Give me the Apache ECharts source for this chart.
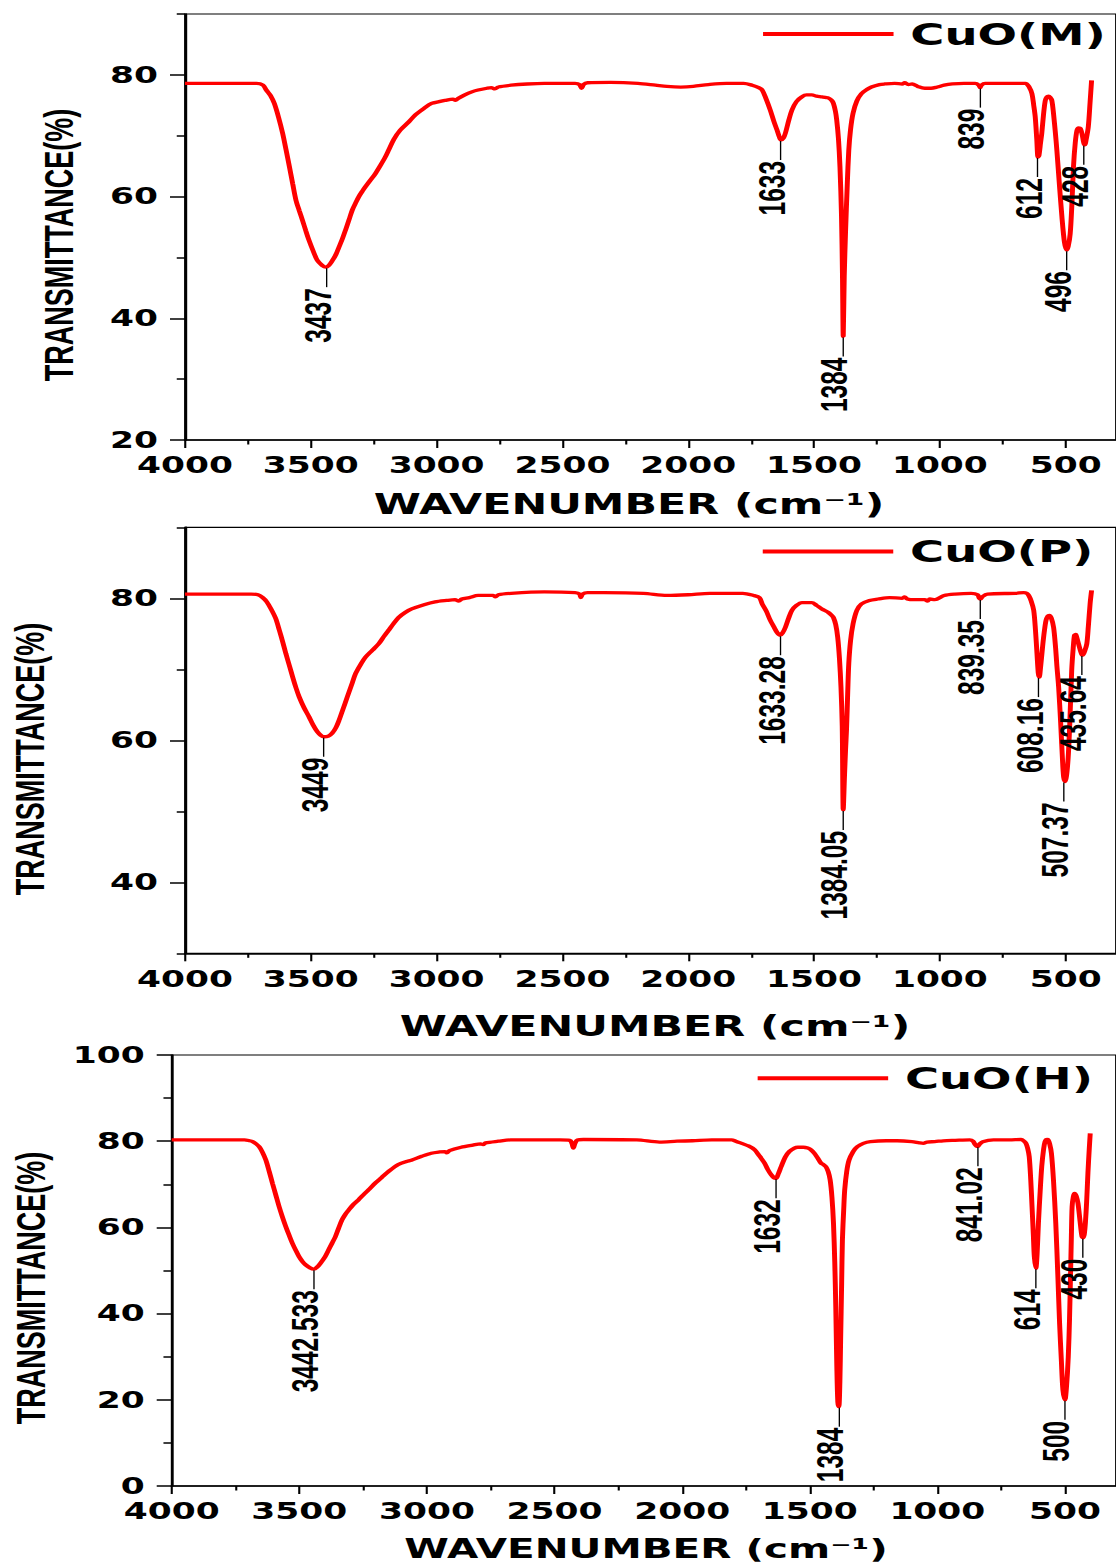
<!DOCTYPE html>
<html><head><meta charset="utf-8">
<script src="https://cdn.jsdelivr.net/npm/echarts@6/dist/echarts.min.js"></script>
<style>
html,body{margin:0;padding:0;background:#fff;overflow:hidden;}
#wrap{width:1116px;height:1564px;overflow:hidden;position:relative;background:#fff;}
#chart{width:744px;height:1564px;transform:scaleX(1.5);transform-origin:0 0;}
</style></head><body><div id="wrap"><div id="chart"></div></div>
<script>
// ---------- data ----------
const seriesNames = ['CuO(M)', 'CuO(P)', 'CuO(H)'];
const xTickLabels = [4000, 3500, 3000, 2500, 2000, 1500, 1000, 500];
const xMinorTicks = [3750, 3250, 2750, 2250, 1750, 1250, 750];
const yTicksM = [20, 40, 60, 80];        const yMinorM = [30, 50, 70, 90];
const yTicksP = [40, 60, 80];            const yMinorP = [30, 50, 70, 90];
const yTicksH = [0, 20, 40, 60, 80, 100]; const yMinorH = [10, 30, 50, 70, 90];

const wM = [4000,3800,3716,3690,3677,3660,3645,3628,3612,3598,3585,3572,3559,3546,3533,3520,3507,3490,3474,3455,3441,3428,3414,3400,3388,3375,3362,3348,3335,3320,3309,3295,3283,3265,3243,3225,3204,3191,3170,3145,3110,3085,3050,3020,2990,2967,2935,2925,2915,2888,2860,2835,2800,2783,2768,2755,2704,2640,2572,2450,2432,2424,2416,2400,2309,2200,2130,2085,2030,1980,1920,1848,1780,1746,1720,1706,1690,1674,1660,1647,1638,1631,1622,1614,1600,1588,1570,1548,1530,1509,1490,1469,1455,1443,1430,1423,1415,1410,1403,1397,1391,1387,1384,1380,1375,1368,1362,1355,1345,1330,1312,1290,1272,1240,1219,1180,1150,1140,1125,1110,1088,1060,1035,1010,983,950,904,860,845,840,835,820,785,700,660,645,634,627,621,615,610,606,600,595,588,581,574,568,562,555,548,541,535,525,515,505,497,490,482,475,469,462,455,448,442,435,428,424,418,410,403,397];
const tM = [78.6,78.6,78.6,78.3,77.5,76.6,75.3,73.0,70.4,67.6,64.9,62.1,59.4,57.7,56.1,54.4,52.8,51.0,49.5,48.7,48.4,48.7,49.5,50.5,51.7,53.0,54.5,56.2,57.8,59.1,60.0,60.9,61.6,62.6,63.8,65.0,66.5,67.6,69.4,70.9,72.3,73.4,74.5,75.3,75.6,75.8,76.0,75.8,76.1,76.7,77.2,77.5,77.8,77.9,77.7,78.0,78.3,78.5,78.6,78.6,78.4,77.8,78.4,78.7,78.75,78.6,78.3,78.1,78.0,78.1,78.4,78.6,78.6,78.3,77.9,77.5,76.0,74.2,72.4,70.9,69.8,69.3,69.6,70.4,72.6,74.2,75.6,76.4,76.7,76.7,76.5,76.4,76.3,76.2,75.8,75.3,74.0,72.6,69.5,64.9,57.0,47.0,37.0,47.0,54.0,62.0,67.6,71.0,73.7,75.7,76.9,77.6,78.0,78.4,78.5,78.6,78.5,78.7,78.4,78.5,78.1,77.8,77.8,78.0,78.3,78.5,78.6,78.6,78.3,77.9,78.3,78.6,78.6,78.6,78.6,78.0,76.9,75.0,73.1,69.5,66.5,66.8,68.8,70.4,73.5,75.8,76.4,76.5,76.3,75.8,73.5,70.5,67.6,62.0,56.7,52.5,51.2,51.8,53.9,59.0,64.9,68.8,70.9,71.3,71.2,70.3,68.8,68.5,69.5,71.5,75.5,79.1];

const wP = [4000,3800,3737,3710,3691,3675,3658,3640,3625,3612,3599,3585,3572,3559,3546,3527,3507,3490,3474,3460,3448,3430,3415,3400,3388,3372,3355,3338,3322,3300,3283,3255,3230,3210,3191,3170,3151,3125,3099,3050,3006,2960,2927,2912,2900,2870,2835,2775,2766,2755,2704,2572,2450,2432,2427,2420,2400,2336,2178,2085,2000,1914,1783,1740,1717,1706,1690,1674,1660,1647,1634,1624,1614,1600,1588,1570,1548,1509,1490,1469,1443,1430,1423,1414,1406,1399,1393,1388,1384,1379,1375,1371,1366,1362,1355,1345,1330,1312,1280,1246,1200,1150,1140,1130,1100,1060,1049,1040,1020,983,940,876,850,843,838,832,811,700,667,655,647,637,627,620,614,609,605,600,592,585,578,571,565,557,548,540,535,528,520,513,508,502,495,489,483,476,470,465,460,456,449,442,436,432,424,416,410,403,397];
const tP = [80.6,80.6,80.6,80.5,80.1,79.5,78.5,77.2,75.5,73.9,72.2,70.5,68.9,67.4,66.1,64.6,63.3,62.1,61.2,60.7,60.5,60.6,61.0,61.8,62.8,64.4,66.1,67.8,69.4,70.8,71.7,72.7,73.6,74.6,75.5,76.5,77.3,78.0,78.5,79.1,79.5,79.7,79.8,79.6,79.9,80.1,80.4,80.4,80.2,80.5,80.7,80.9,80.8,80.6,80.1,80.6,80.8,80.8,80.7,80.4,80.5,80.7,80.7,80.4,80.1,79.2,78.2,76.9,76.0,75.2,74.8,75.2,75.9,77.3,78.3,79.0,79.4,79.4,79.0,78.5,78.0,77.6,77.3,76.3,74.5,71.5,67.5,62.0,50.2,55.0,58.5,61.5,67.0,70.8,74.0,76.4,78.3,79.2,79.7,79.9,80.1,80.0,80.2,79.9,79.8,79.8,79.6,79.9,79.8,80.4,80.6,80.7,80.5,80.0,79.9,80.2,80.6,80.7,80.8,80.7,80.4,79.6,78.3,75.5,72.2,69.5,68.9,70.2,73.1,75.3,76.9,77.5,77.6,77.2,75.9,73.0,70.5,67.5,62.5,57.5,54.8,54.2,55.5,58.2,63.0,69.9,73.0,74.8,74.9,74.5,73.6,72.7,72.1,72.0,72.6,73.6,76.0,79.2,81.1];

const wH = [4000,3800,3715,3695,3683,3670,3657,3644,3631,3618,3605,3592,3579,3566,3553,3540,3527,3514,3501,3488,3475,3458,3443,3430,3417,3400,3385,3372,3359,3346,3333,3320,3307,3290,3268,3250,3229,3200,3177,3150,3112,3080,3061,3020,2983,2950,2930,2922,2912,2866,2820,2790,2780,2770,2720,2672,2478,2440,2432,2426,2420,2410,2387,2178,2089,2020,1959,1884,1806,1790,1767,1740,1716,1700,1677,1665,1651,1640,1632,1624,1612,1596,1580,1560,1547,1525,1508,1495,1482,1470,1456,1447,1437,1428,1420,1413,1407,1402,1398,1394,1390,1386,1382,1379,1375,1372,1367,1363,1355,1346,1330,1314,1290,1262,1200,1158,1100,1070,1055,1040,1010,977,930,873,860,852,847,841,835,822,780,718,672,660,653,646,640,634,629,624,620,614,609,604,597,591,584,578,570,566,560,553,545,536,528,521,514,508,500,494,487,482,478,475,472,467,462,456,449,441,433,428,424,420,415,410,405,401];
const tH = [80.3,80.3,80.3,80.1,79.9,79.4,78.7,77.4,75.6,73.0,70.2,67.5,64.8,62.4,60.2,58.2,56.3,54.7,53.2,52.1,51.3,50.6,50.3,50.8,51.7,53.1,54.8,56.3,57.8,59.8,61.7,63.0,64.0,65.2,66.4,67.5,68.7,70.4,71.6,73.0,74.6,75.3,75.6,76.5,77.2,77.5,77.6,77.3,77.8,78.6,79.1,79.4,79.2,79.6,80.0,80.3,80.3,80.2,79.5,78.4,79.5,80.3,80.4,80.3,79.8,80.0,80.1,80.3,80.3,80.0,79.5,78.9,78.0,76.8,74.9,73.5,72.2,71.5,71.4,72.3,74.1,76.3,77.6,78.4,78.6,78.6,78.4,78.0,77.2,76.2,74.9,74.6,74.1,73.0,71.0,67.0,61.0,52.0,41.6,28.0,19.5,18.4,24.0,33.9,47.0,57.1,64.0,68.7,73.0,75.6,77.6,78.7,79.5,79.9,80.1,80.1,79.9,79.6,79.5,79.8,79.9,80.1,80.2,80.3,80.0,79.2,78.9,78.8,79.3,79.9,80.3,80.3,80.4,80.0,79.5,78.3,76.4,71.0,64.8,58.5,53.2,50.5,54.0,61.0,68.5,74.1,78.0,79.9,80.4,80.3,79.4,77.2,71.0,61.0,49.0,37.7,29.0,22.3,20.0,23.0,30.0,39.0,49.4,57.5,64.8,67.2,67.9,67.3,65.6,61.5,57.8,57.6,58.5,61.0,66.0,72.6,78.0,81.8];

const peaksM = [3437, 1633, 1384, 839, 612, 496, 428];
const peakLabelsM = ['3437', '1633', '1384', '839', '612', '496', '428'];
const peaksP = [3449, 1633.28, 1384.05, 839.35, 608.16, 507.37, 435.64];
const peakLabelsP = ['3449', '1633.28', '1384.05', '839.35', '608.16', '507.37', '435.64'];
const peaksH = [3442.533, 1632, 1384, 841.02, 614, 500, 430];
const peakLabelsH = ['3442.533', '1632', '1384', '841.02', '614', '500', '430'];

// ---------- layout (internal px; the page is stretched 1.5x horizontally) ----------
const panels = [
  {name: seriesNames[0], w: wM, t: tM, peaks: peaksM, labels: peakLabelsM, yMin: 20, yMax: 90, yTicks: yTicksM, yMinor: yMinorM,
   grid: {left: 123.33, top: 14, width: 625.1, height: 426}, legend: {left: 508.7, top: 18.5},
   xName: {x: 419.3, y: 504, size: 28.5}, yName: {x: 39, y: 245}},
  {name: seriesNames[1], w: wP, t: tP, peaks: peaksP, labels: peakLabelsP, yMin: 30, yMax: 90, yTicks: yTicksP, yMinor: yMinorP,
   grid: {left: 123.33, top: 527.3, width: 625.1, height: 426}, legend: {left: 508.5, top: 536},
   xName: {x: 436.7, y: 1026, size: 28.5}, yName: {x: 20, y: 759}},
  {name: seriesNames[2], w: wH, t: tH, peaks: peaksH, labels: peakLabelsH, yMin: 0, yMax: 100, yTicks: yTicksH, yMinor: yMinorH,
   grid: {left: 114.47, top: 1055, width: 634.5, height: 431}, legend: {left: 505.1, top: 1062.8},
   xName: {x: 430.7, y: 1549, size: 27}, yName: {x: 20.3, y: 1288}}
];

function peakY(w, t, p) {
  let best = null;
  for (let i = 0; i < w.length; i++) {
    if (Math.abs(w[i] - p) <= 8 && (best === null || t[i] < best)) best = t[i];
  }
  if (best !== null) return best;
  for (let i = 0; i < w.length - 1; i++) {
    if (w[i] >= p && w[i + 1] <= p) {
      const f = (w[i] - p) / (w[i] - w[i + 1]);
      return t[i] + f * (t[i + 1] - t[i]);
    }
  }
  return t[t.length - 1];
}

const tickFont = {color: '#000', fontFamily: 'DejaVu Sans', fontWeight: 'bold', fontSize: 23, formatter: v => String(v)};
const option = {animation: false, backgroundColor: '#fff', grid: [], xAxis: [], yAxis: [], legend: [], graphic: [], series: []};

panels.forEach((pn, i) => {
  option.grid.push(Object.assign({show: true, borderColor: '#000', borderWidth: 1.2, backgroundColor: 'transparent'}, pn.grid));
  option.xAxis.push({type: 'value', gridIndex: i, min: 300, max: 4000, inverse: true, position: 'bottom',
    axisLine: {show: true, onZero: false, lineStyle: {color: '#000', width: 1.6}},
    axisTick: {show: true, customValues: xTickLabels, length: 8, lineStyle: {color: '#000', width: 1.4}},
    axisLabel: Object.assign({show: true, customValues: xTickLabels, margin: 14}, tickFont),
    splitLine: {show: false}});
  option.xAxis.push({type: 'value', gridIndex: i, min: 300, max: 4000, inverse: true, position: 'bottom',
    axisLine: {show: false}, axisLabel: {show: false}, splitLine: {show: false},
    axisTick: {show: true, customValues: xMinorTicks, length: 4.5, lineStyle: {color: '#000', width: 1.4}}});
  option.yAxis.push({type: 'value', gridIndex: i, min: pn.yMin, max: pn.yMax, position: 'left',
    axisLine: {show: true, onZero: false, lineStyle: {color: '#000', width: 1.6}},
    axisTick: {show: true, customValues: pn.yTicks, length: 10, lineStyle: {color: '#000', width: 1.5}},
    axisLabel: Object.assign({show: true, customValues: pn.yTicks, margin: 18}, tickFont),
    splitLine: {show: false}});
  option.yAxis.push({type: 'value', gridIndex: i, min: pn.yMin, max: pn.yMax, position: 'left',
    axisLine: {show: false}, axisLabel: {show: false}, splitLine: {show: false},
    axisTick: {show: true, customValues: pn.yMinor, length: 5.5, lineStyle: {color: '#000', width: 1.5}}});

  option.legend.push({data: [{name: pn.name, icon: 'rect'}], left: pn.legend.left, top: pn.legend.top, padding: 0,
    orient: 'horizontal', itemWidth: 87, itemHeight: 4, selectedMode: false,
    formatter: '\u2009{name}',
    itemStyle: {color: '#ff0000', borderWidth: 0},
    textStyle: {color: '#000', fontFamily: 'DejaVu Sans', fontWeight: 'bold', fontSize: 31}});

  option.graphic.push({type: 'text', x: pn.xName.x, y: pn.xName.y, silent: true,
    style: {text: 'WAVENUMBER (cm\u207B\u00B9)', fill: '#000', font: 'bold ' + pn.xName.size + 'px "DejaVu Sans"',
      textAlign: 'center', textVerticalAlign: 'middle', align: 'center', verticalAlign: 'middle'}});
  option.graphic.push({type: 'text', x: pn.yName.x, y: pn.yName.y, rotation: Math.PI / 2, silent: true,
    style: {text: 'TRANSMITTANCE(%)', fill: '#000', font: 'bold 27px "Liberation Sans"',
      textAlign: 'center', textVerticalAlign: 'middle', align: 'center', verticalAlign: 'middle'}});

  option.series.push({type: 'line', name: pn.name, xAxisIndex: 2 * i, yAxisIndex: 2 * i,
    data: pn.w.map((w, k) => [w, pn.t[k]]), symbol: 'none', showSymbol: false, smooth: 0.3,
    lineStyle: {color: '#ff0000', width: 3.3}, itemStyle: {color: '#ff0000'}, z: 3});

  const labels = pn.labels;
  option.series.push({type: 'custom', xAxisIndex: 2 * i, yAxisIndex: 2 * i, silent: true, z: 4, clip: false,
    data: pn.peaks.map(p => [p, peakY(pn.w, pn.t, p)]),
    renderItem: function (params, api) {
      const pt = api.coord([api.value(0), api.value(1)]);
      const L = 20;
      return {type: 'group', children: [
        {type: 'line', shape: {x1: pt[0], y1: pt[1] + 1, x2: pt[0], y2: pt[1] + L}, style: {stroke: '#000', lineWidth: 0.9}},
        {type: 'text', x: pt[0] - 5.5, y: pt[1] + L + 1, rotation: Math.PI / 2,
          style: {text: labels[params.dataIndex], fill: '#000', font: 'bold 24.5px "Liberation Sans"',
            textAlign: 'right', textVerticalAlign: 'middle', align: 'right', verticalAlign: 'middle'}}
      ]};
    }});
});

const chart = echarts.init(document.getElementById('chart'), null, {renderer: 'svg', width: 744, height: 1564});
chart.setOption(option);
</script></body></html>
